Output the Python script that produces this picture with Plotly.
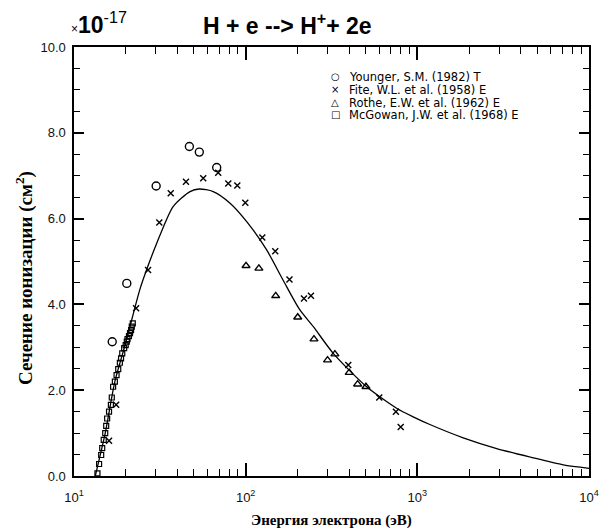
import plotly.graph_objects as go

# ---- data ----
curve_E = [13.3, 15.2, 17.3, 20.0, 24.2, 27.0, 30.3, 37.8, 47.4, 53.7, 64.7, 81.1,
           101.4, 132.5, 165, 207, 248, 323.6, 506.6, 757, 946, 1183, 1850, 2900,
           4560, 7080, 10000]
curve_s = [0.0, 1.0, 2.2, 3.1, 4.35, 4.9, 5.42, 6.28, 6.63, 6.69, 6.63, 6.36,
           5.93, 5.27, 4.57, 3.87, 3.48, 2.86, 2.08, 1.58, 1.38, 1.20, 0.89, 0.64,
           0.44, 0.26, 0.18]

younger_E = [16.7, 20.3, 30.1, 47.0, 53.7, 67.8]
younger_s = [3.13, 4.49, 6.76, 7.68, 7.55, 7.19]

fite_E = [16.0, 17.6, 23.0, 27.0, 31.4, 36.6, 44.9, 56.6, 69.2, 79.2, 89.4, 99.5,
          125, 148.7, 180, 218.6, 240, 396, 600, 750, 800]
fite_s = [0.82, 1.66, 3.91, 4.80, 5.91, 6.59, 6.86, 6.94, 7.07, 6.82, 6.77, 6.37,
          5.56, 5.24, 4.58, 4.14, 4.20, 2.59, 1.83, 1.50, 1.14]

rothe_E = [100.5, 119.4, 149.6, 201, 250, 300, 331, 401, 449, 502]
rothe_s = [4.90, 4.84, 4.20, 3.70, 3.19, 2.70, 2.84, 2.41, 2.14, 2.08]

mcgowan_E = [13.7, 14.0, 14.4, 14.6, 14.9, 15.2, 15.4, 15.6, 16.0, 16.4, 16.6, 16.9,
             17.3, 17.7, 18.1, 18.5, 18.8, 19.1, 19.6, 20.0, 20.3, 20.5, 20.9, 21.2,
             21.5, 21.7, 22.0]
mcgowan_s = [0.06, 0.28, 0.49, 0.65, 0.84, 1.00, 1.17, 1.34, 1.50, 1.66, 1.83, 2.08,
             2.20, 2.35, 2.49, 2.64, 2.74, 2.86, 2.98, 3.05, 3.13, 3.19, 3.26, 3.33,
             3.40, 3.48, 3.56]

x_major = [10, 100, 1000, 10000]
x_major_text = ["10<sup>1</sup>", "10<sup>2</sup>", "10<sup>3</sup>", "10<sup>4</sup>"]
x_minor = [m * d for d in (10, 100, 1000) for m in range(2, 10)]
y_major = [0, 2, 4, 6, 8, 10]
y_major_text = ["0.0", "2.0", "4.0", "6.0", "8.0", "10.0"]
y_minor = [v * 0.5 for v in range(0, 21)]

legend_names = ["Younger, S.M. (1982) T", "Fite, W.L. et al. (1958) E",
                "Rothe, E.W. et al. (1962) E", "McGowan, J.W. et al. (1968) E"]
legend_symbols = ["○", "×", "△", "□"]

title_text = "<b>H + e --> H<sup>+</sup>+ 2e</b>"
scale_text = "<span style='font-size:12px'>×</span><b>10</b><sup>-17</sup>"
xlabel = "<b>Энергия электрона (эВ)</b>"
ylabel = "<b>Сечение ионизации (см<sup>2</sup>)</b>"

# ---- figure ----
W, H = 600, 531
L, R, T, B = 74, 11, 47, 55
pw, ph = W - L - R, H - T - B


def px(x):
    return (x - L) / pw


def py(y):
    return (H - B - y) / ph


fig = go.Figure()
fig.add_trace(go.Scatter(x=curve_E, y=curve_s, mode="lines", xaxis="x2", yaxis="y2",
                         line=dict(color="black", width=1.3, shape="spline", smoothing=0.7),
                         showlegend=False, hoverinfo="skip"))
fig.add_trace(go.Scatter(x=mcgowan_E, y=mcgowan_s, mode="markers", name=legend_names[3],
                         marker=dict(symbol="square-open", size=5, color="black",
                                     line=dict(width=1.2)), showlegend=False))
fig.add_trace(go.Scatter(x=younger_E, y=younger_s, mode="markers", name=legend_names[0],
                         marker=dict(symbol="circle-open", size=8, color="black",
                                     line=dict(width=1.4)), showlegend=False))
fig.add_trace(go.Scatter(x=fite_E, y=fite_s, mode="markers", name=legend_names[1],
                         marker=dict(symbol="x-thin-open", size=6, color="black",
                                     line=dict(width=1.4)), showlegend=False))
fig.add_trace(go.Scatter(x=rothe_E, y=rothe_s, mode="markers", name=legend_names[2],
                         marker=dict(symbol="triangle-up-open", size=7, color="black",
                                     line=dict(width=1.4)), showlegend=False))

tickfont = dict(family="Liberation Sans, Arial", size=13, color="#111")

common = dict(showline=True, linewidth=2, linecolor="black", mirror="allticks",
              ticks="inside", tickcolor="black", showgrid=False, zeroline=False)

fig.update_layout(
    xaxis=dict(type="log", range=[1, 4], ticklen=13, tickwidth=1.5, tickmode="array",
               tickvals=x_major, ticktext=x_major_text, tickfont=tickfont,
               ticklabelstandoff=8, **common),
    yaxis=dict(range=[0, 10], ticklen=10, tickwidth=1.5, tickmode="array",
               tickvals=y_major, ticktext=[t + "\u00a0" for t in y_major_text],
               tickfont=tickfont, **common),
    xaxis2=dict(type="log", range=[1, 4], overlaying="x", anchor="y2", side="bottom",
                ticklen=7, tickwidth=1.3, tickmode="array", tickvals=x_minor,
                showticklabels=False, **common),
    yaxis2=dict(range=[0, 10], overlaying="y", anchor="x2", side="left",
                ticklen=6, tickwidth=1.3, tickmode="array", tickvals=y_minor,
                showticklabels=False, **common),
)

ann = []
ann.append(dict(text=title_text, x=px(287), y=py(24), xref="paper", yref="paper",
                showarrow=False, xanchor="center", yanchor="middle",
                font=dict(family="Liberation Sans, Arial", size=23, color="black")))
ann.append(dict(text=scale_text, x=px(69), y=py(23), xref="paper", yref="paper",
                showarrow=False, xanchor="left", yanchor="middle",
                font=dict(family="Liberation Sans, Arial", size=23, color="black")))
ann.append(dict(text=xlabel, x=0.5, y=py(520), xref="paper", yref="paper",
                showarrow=False, xanchor="center", yanchor="middle",
                font=dict(family="Liberation Serif, Times New Roman", size=15, color="black")))
ann.append(dict(text=ylabel, x=px(24), y=py(278), xref="paper", yref="paper",
                showarrow=False, xanchor="center", yanchor="middle", textangle=-90,
                font=dict(family="Liberation Serif, Times New Roman", size=19, color="black")))

leg_y = [77, 89.5, 102.5, 115]
for sym, name, yy in zip(legend_symbols, legend_names, leg_y):
    ann.append(dict(text=sym, x=px(335), y=py(yy), xref="paper", yref="paper",
                    showarrow=False, xanchor="center", yanchor="middle",
                    font=dict(family="DejaVu Sans", size=10, color="black")))
    ann.append(dict(text=name, x=px(347), y=py(yy), xref="paper", yref="paper",
                    showarrow=False, xanchor="left", yanchor="middle",
                    font=dict(family="DejaVu Sans", size=11.5, color="black")))

fig.update_layout(width=W, height=H, margin=dict(l=L, r=R, t=T, b=B, autoexpand=False),
                  paper_bgcolor="white", plot_bgcolor="white", showlegend=False,
                  annotations=ann)

fig.write_html("out.html", config={"displayModeBar": False},
               post_script="document.body.style.margin='0';")
